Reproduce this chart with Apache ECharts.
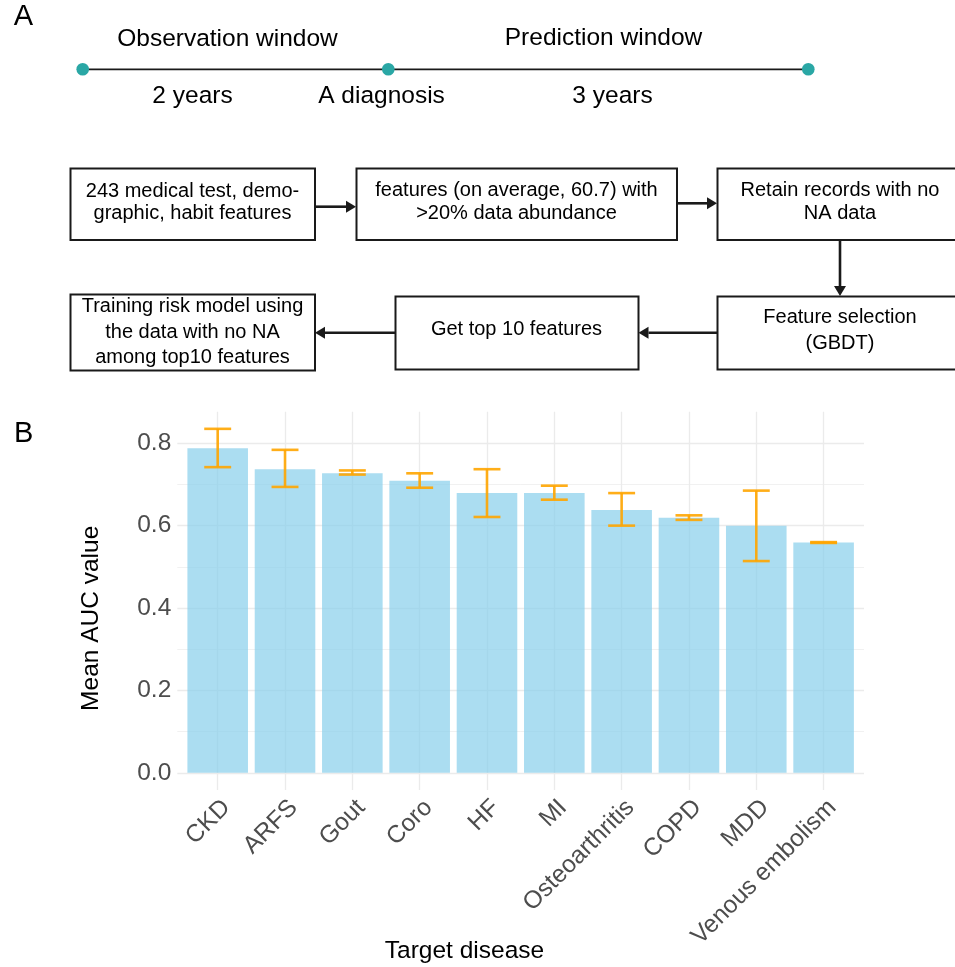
<!DOCTYPE html>
<html>
<head>
<meta charset="utf-8">
<script src="https://cdn.jsdelivr.net/npm/echarts@6/dist/echarts.min.js"></script>
<style>
html,body{margin:0;padding:0;background:#ffffff;}
#main{width:955px;height:967px;}
</style>
</head>
<body>
<div id="main"></div>
<script>
// ---------------- data ----------------
const categories = ['CKD', 'ARFS', 'Gout', 'Coro', 'HF', 'MI', 'Osteoarthritis', 'COPD', 'MDD', 'Venous embolism'];
const meanAUC  = [0.788, 0.737, 0.727, 0.709, 0.679, 0.679, 0.638, 0.619, 0.600, 0.559];
const lowerAUC = [0.742, 0.694, 0.724, 0.692, 0.621, 0.663, 0.600, 0.614, 0.514, 0.558];
const upperAUC = [0.835, 0.784, 0.734, 0.727, 0.737, 0.697, 0.679, 0.625, 0.685, 0.560];
const yTickValues = [0, 0.2, 0.4, 0.6, 0.8];
const yAxisTitle = 'Mean AUC value';
const xAxisTitle = 'Target disease';
const timelineTop = ['Observation window', 'Prediction window'];
const timelineBottom = ['2 years', 'A diagnosis', '3 years'];
const flowSteps = [
  '243 medical test, demo-\ngraphic, habit features',
  'features (on average, 60.7) with\n>20% data abundance',
  'Retain records with no\nNA data',
  'Feature selection\n(GBDT)',
  'Get top 10 features',
  'Training risk model using\nthe data with no NA\namong top10 features'
];
const panelLabels = ['A', 'B'];

// ---------------- layout ----------------
const W = 955, H = 967;
const FONT = 'Liberation Sans, Arial, Helvetica, sans-serif';
const PLOT_LEFT = 177.3, PLOT_RIGHT = 864, PLOT_TOP = 411.7, PLOT_BOTTOM = 790;
const Y_MIN = -0.0418, Y_MAX = 0.8766;
const pxPerUnit = (PLOT_BOTTOM - PLOT_TOP) / (Y_MAX - Y_MIN);
const zeroY = PLOT_BOTTOM + Y_MIN * pxPerUnit;
const topTickY = zeroY - yTickValues[yTickValues.length - 1] * pxPerUnit;
const bandUnit = (PLOT_RIGHT - PLOT_LEFT) / (categories.length + 0.2);
const catLeft = PLOT_LEFT + 0.1 * bandUnit;
const catRight = PLOT_RIGHT - 0.1 * bandUnit;

const INK = '#1a1a1a';
const TEAL = '#2AA7A5';

// ---------------- panel A graphics ----------------
const graphics = [];
function txt(x, y, s, size, opts) {
  opts = opts || {};
  graphics.push({
    type: 'text', x: x, y: y, rotation: opts.rotation || 0, silent: true,
    style: {
      text: s, x: 0, y: 0, fill: opts.fill || '#000', fontSize: size, fontFamily: FONT,
      align: opts.align || 'center', verticalAlign: 'middle', lineHeight: opts.lineHeight || size * 1.15
    }
  });
}
function box(x, y, w, h) {
  graphics.push({ type: 'rect', silent: true, shape: { x: x, y: y, width: w, height: h },
    style: { fill: '#fff', stroke: INK, lineWidth: 2 } });
}
function arrow(x1, y1, x2, y2) {
  const len = Math.hypot(x2 - x1, y2 - y1);
  const ux = (x2 - x1) / len, uy = (y2 - y1) / len;
  const hl = 10, hw = 6;
  const bx = x2 - ux * hl, by = y2 - uy * hl;
  graphics.push({ type: 'line', silent: true, shape: { x1: x1, y1: y1, x2: bx, y2: by },
    style: { stroke: INK, lineWidth: 2.6 } });
  graphics.push({ type: 'polygon', silent: true,
    shape: { points: [[x2, y2], [bx - uy * hw, by + ux * hw], [bx + uy * hw, by - ux * hw]] },
    style: { fill: INK } });
}

// panel labels
txt(23.3, 16.5, panelLabels[0], 29, { align: 'center' });
txt(23.7, 434, panelLabels[1], 29, { align: 'center' });

// timeline
graphics.push({ type: 'line', silent: true, shape: { x1: 82.7, y1: 69.3, x2: 808.3, y2: 69.3 },
  style: { stroke: INK, lineWidth: 1.8 } });
[82.7, 388.3, 808.3].forEach(function (cx) {
  graphics.push({ type: 'circle', silent: true, shape: { cx: cx, cy: 69.3, r: 6.3 }, style: { fill: TEAL } });
});
txt(227.5, 39, timelineTop[0], 24.5);
txt(603.5, 38.5, timelineTop[1], 24.5);
txt(192.5, 95.8, timelineBottom[0], 24.5);
txt(381.5, 95.8, timelineBottom[1], 24.5);
txt(612.5, 95.8, timelineBottom[2], 24.5);

// flowchart boxes
box(70.5, 168.5, 244.5, 71.5);
box(356.5, 168.5, 320.5, 71.5);
box(717.5, 168.5, 250, 71.5);
box(717.5, 296.5, 250, 73);
box(395.5, 296.5, 243, 73);
box(70.5, 294.5, 244.5, 76);

txt(192.5, 202.1, flowSteps[0], 20, { lineHeight: 21.8 });
txt(516.5, 201.8, flowSteps[1], 20, { lineHeight: 22.5 });
txt(840, 202, flowSteps[2], 20, { lineHeight: 22.2 });
txt(840, 330.2, flowSteps[3], 20, { lineHeight: 25.7 });
txt(516.5, 329, flowSteps[4], 20);
txt(192.5, 332.1, flowSteps[5], 20, { lineHeight: 25.3 });

arrow(315, 206.7, 356, 206.7);
arrow(677, 203.3, 717, 203.3);
arrow(840, 240, 840, 296);
arrow(717, 332.7, 638.5, 332.7);
arrow(395, 332.7, 315, 332.7);

// axis titles
txt(91, 618.3, yAxisTitle, 24.5, { rotation: Math.PI / 2 });
txt(464.5, 951.7, xAxisTitle, 24.5);

// ---------------- error bars ----------------
function renderErrorBar(params, api) {
  const i = api.value(0);
  const lo = api.coord([i, api.value(1)]);
  const hi = api.coord([i, api.value(2)]);
  const half = api.size([1, 0])[0] * 0.2;
  const st = { stroke: '#FFA500', lineWidth: 2.6, opacity: 0.9 };
  return {
    type: 'group',
    children: [
      { type: 'line', shape: { x1: lo[0], y1: hi[1], x2: lo[0], y2: lo[1] }, style: st },
      { type: 'line', shape: { x1: lo[0] - half, y1: hi[1], x2: lo[0] + half, y2: hi[1] }, style: st },
      { type: 'line', shape: { x1: lo[0] - half, y1: lo[1], x2: lo[0] + half, y2: lo[1] }, style: st }
    ]
  };
}

const GRID_COLOR = '#EBEBEB';

const option = {
  animation: false,
  backgroundColor: '#ffffff',
  textStyle: { fontFamily: FONT },
  grid: [
    { left: PLOT_LEFT, right: W - PLOT_RIGHT, top: topTickY, bottom: H - zeroY, containLabel: false },
    { left: catLeft, right: W - catRight, top: PLOT_TOP, bottom: H - PLOT_BOTTOM, containLabel: false }
  ],
  xAxis: [
    { gridIndex: 0, type: 'value', show: false, min: 0, max: 1 },
    {
      gridIndex: 1, type: 'category', data: categories, boundaryGap: true,
      axisLine: { show: false }, axisTick: { show: false, alignWithLabel: true },
      splitLine: { show: true, alignWithLabel: true, lineStyle: { color: GRID_COLOR, width: 1.3 } },
      axisLabel: {
        interval: 0, rotate: 45, align: 'right', verticalAlign: 'top', margin: 5,
        fontSize: 24.5, color: '#4D4D4D', fontFamily: FONT
      }
    }
  ],
  yAxis: [
    {
      gridIndex: 0, type: 'value', min: yTickValues[0], max: yTickValues[yTickValues.length - 1],
      interval: yTickValues[1] - yTickValues[0],
      axisLine: { show: false }, axisTick: { show: false },
      splitLine: { show: true, lineStyle: { color: GRID_COLOR, width: 1.3 } },
      minorTick: { show: false, splitNumber: 2 },
      minorSplitLine: { show: true, lineStyle: { color: GRID_COLOR, width: 0.7 } },
      axisLabel: {
        margin: 6, fontSize: 24.5, color: '#4D4D4D', fontFamily: FONT,
        formatter: function (v) { return v.toFixed(1); }
      }
    },
    { gridIndex: 1, type: 'value', min: Y_MIN, max: Y_MAX, show: false, splitLine: { show: false } }
  ],
  series: [
    {
      type: 'bar', xAxisIndex: 1, yAxisIndex: 1, data: meanAUC, barWidth: '90%',
      itemStyle: { color: '#87CEEB', opacity: 0.7 }, silent: true, z: 2
    },
    {
      type: 'custom', xAxisIndex: 1, yAxisIndex: 1, renderItem: renderErrorBar, silent: true, z: 3,
      encode: { x: 0, y: [1, 2] },
      data: categories.map(function (c, i) { return [i, lowerAUC[i], upperAUC[i]]; })
    }
  ],
  graphic: graphics
};

const chart = echarts.init(document.getElementById('main'), null, { renderer: 'canvas', width: W, height: H });
chart.setOption(option);
</script>
</body>
</html>
